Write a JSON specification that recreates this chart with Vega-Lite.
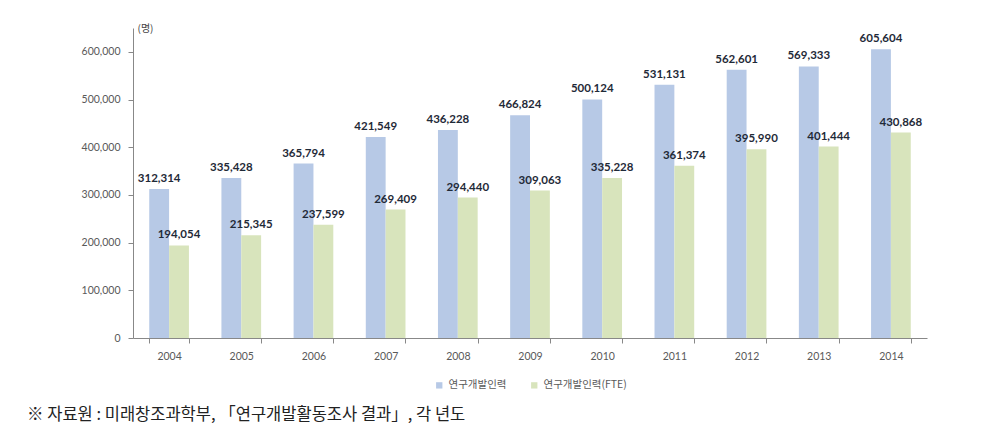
{
  "$schema": "https://vega.github.io/schema/vega-lite/v6.json",
  "autosize": {"type": "none"},
  "width": 794,
  "height": 310,
  "padding": {"left": 133, "top": 28, "right": 58, "bottom": 98},
  "background": "white",
  "config": {
    "view": {"stroke": null},
    "legend": {"layout": {"bottom": {"anchor": "middle"}}}
  },
  "title": {
    "text": "※ 자료원 : 미래창조과학부, 「연구개발활동조사 결과」, 각 년도",
    "orient": "bottom",
    "anchor": "start",
    "frame": "group",
    "dx": -106,
    "dy": -20,
    "offset": 36,
    "font": "Noto Sans CJK KR",
    "fontSize": 16.5,
    "fontWeight": "normal",
    "color": "#222222"
  },
  "data": {
    "values": [
      {"year": "2004", "series": "연구개발인력", "value": 312314},
      {"year": "2005", "series": "연구개발인력", "value": 335428},
      {"year": "2006", "series": "연구개발인력", "value": 365794},
      {"year": "2007", "series": "연구개발인력", "value": 421549},
      {"year": "2008", "series": "연구개발인력", "value": 436228},
      {"year": "2009", "series": "연구개발인력", "value": 466824},
      {"year": "2010", "series": "연구개발인력", "value": 500124},
      {"year": "2011", "series": "연구개발인력", "value": 531131},
      {"year": "2012", "series": "연구개발인력", "value": 562601},
      {"year": "2013", "series": "연구개발인력", "value": 569333},
      {"year": "2014", "series": "연구개발인력", "value": 605604},
      {"year": "2004", "series": "연구개발인력(FTE)", "value": 194054},
      {"year": "2005", "series": "연구개발인력(FTE)", "value": 215345},
      {"year": "2006", "series": "연구개발인력(FTE)", "value": 237599},
      {"year": "2007", "series": "연구개발인력(FTE)", "value": 269409},
      {"year": "2008", "series": "연구개발인력(FTE)", "value": 294440},
      {"year": "2009", "series": "연구개발인력(FTE)", "value": 309063},
      {"year": "2010", "series": "연구개발인력(FTE)", "value": 335228},
      {"year": "2011", "series": "연구개발인력(FTE)", "value": 361374},
      {"year": "2012", "series": "연구개발인력(FTE)", "value": 395990},
      {"year": "2013", "series": "연구개발인력(FTE)", "value": 401444},
      {"year": "2014", "series": "연구개발인력(FTE)", "value": 430868}
    ]
  },
  "encoding": {
    "x": {
      "field": "year",
      "type": "nominal",
      "scale": {"paddingInner": 0.45, "paddingOuter": 0.225},
      "axis": {
        "title": null,
        "labelAngle": 0,
        "labelFont": "Lato",
        "labelFontSize": 10.5,
        "labelColor": "#595959",
        "labelPadding": 8,
        "domainColor": "#888888",
        "tickColor": "#888888",
        "tickBand": "extent",
        "tickSize": 5
      }
    },
    "xOffset": {"field": "series", "type": "nominal"},
    "y": {
      "field": "value",
      "type": "quantitative",
      "scale": {"domain": [0, 650000], "nice": false},
      "axis": {
        "values": [0, 100000, 200000, 300000, 400000, 500000, 600000],
        "format": ",d",
        "grid": false,
        "title": "(명)",
        "titleAngle": 0,
        "titleX": 4,
        "titleY": 0,
        "titleAlign": "left",
        "titleBaseline": "middle",
        "titleFont": "Noto Sans CJK KR",
        "titleFontSize": 10,
        "titleFontWeight": "normal",
        "titleColor": "#444444",
        "labelFont": "Lato",
        "labelFontSize": 10.5,
        "labelColor": "#595959",
        "labelPadding": 8,
        "domainColor": "#888888",
        "tickColor": "#888888",
        "tickSize": 5
      }
    },
    "color": {
      "field": "series",
      "type": "nominal",
      "scale": {"domain": ["연구개발인력", "연구개발인력(FTE)"], "range": ["#b7c9e6", "#d8e4bc"]},
      "legend": {
        "title": null,
        "orient": "bottom",
        "direction": "horizontal",
        "symbolType": "square",
        "symbolSize": 40,
        "symbolStrokeWidth": 0,
        "labelFont": "Noto Sans CJK KR",
        "labelFontSize": 10.5,
        "labelColor": "#595959",
        "columnPadding": 22,
        "offset": 18
      }
    }
  },
  "layer": [
    {"mark": {"type": "bar"}},
    {
      "mark": {"type": "text", "baseline": "bottom", "dy": -5, "font": "Lato", "fontWeight": "bold", "fontSize": 11.5},
      "encoding": {
        "text": {"field": "value", "type": "quantitative", "format": ",d"},
        "color": {"value": "#1f2a38"}
      }
    }
  ]
}
